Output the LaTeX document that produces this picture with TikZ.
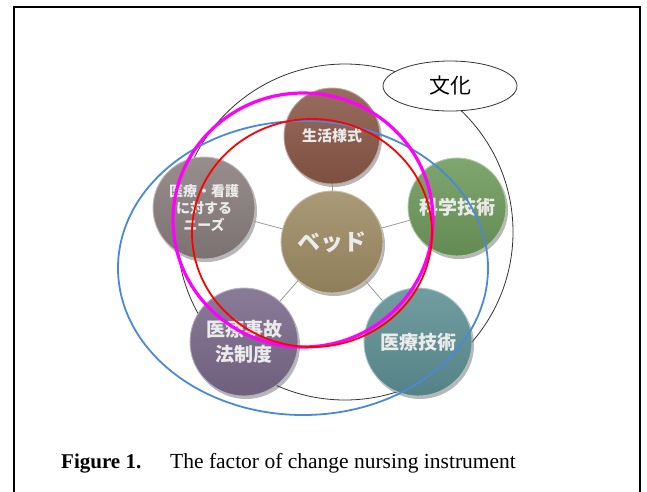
\documentclass[tikz,border=0pt]{standalone}
\usepackage{fontspec}
\setmainfont{Liberation Serif}
\newfontfamily\jp{Noto Sans CJK JP}
\usetikzlibrary{shadows,shapes.geometric}
\definecolor{clife}{HTML}{8A5848}
\definecolor{csci}{HTML}{6E9A5C}
\definecolor{cneeds}{HTML}{8A7E7E}
\definecolor{cbed}{HTML}{9E8C64}
\definecolor{cacc}{HTML}{7A6A8A}
\definecolor{ctech}{HTML}{5E9094}
\definecolor{cblue}{HTML}{4A88D8}
\definecolor{cmag}{HTML}{FF00FF}
\definecolor{cred}{HTML}{FF0000}
\tikzset{
  disc/.style={circle, draw=#1!55!white, line width=0.9pt, top color=#1!88!white, bottom color=#1!90!black,
    text=white!92!black, align=center, inner sep=0pt,
    drop shadow={shadow xshift=2pt, shadow yshift=-3pt, opacity=0.4, fill=black!70}},
  link/.style={draw=gray!80, line width=0.8pt},
}
\begin{document}
\begin{tikzpicture}[x=1pt,y=-1pt]
\useasboundingbox (0,0) rectangle (647,491);
% frame
\draw[line width=2pt] (14,500) -- (14,7) -- (640,7) -- (640,500);
% culture circle
\draw[line width=0.8pt, black!80] (345,232) circle (168);
% discs
\coordinate (cb) at (332,242);
\node[disc=clife, minimum size=96, font=\jp\bfseries\fontsize{15}{18}\selectfont] (life) at (332,136) {生活様式};
\node[disc=csci, minimum size=98, font=\jp\bfseries\fontsize{19}{22}\selectfont] (sci) at (457,207) {科学技術};
\node[disc=cneeds, minimum size=102, font=\jp\bfseries\fontsize{14}{17}\selectfont] (needs) at (204,208) {医療・看護\\に対する\\ニーズ};
\node[disc=cacc, minimum size=108, font=\jp\bfseries\fontsize{19}{25}\selectfont] (acc) at (244,342) {医療事故\\法制度};
\node[disc=ctech, minimum size=108, font=\jp\bfseries\fontsize{19}{22}\selectfont] (tech) at (418,342) {医療技術};
\node[disc=cbed, minimum size=102, font=\jp\bfseries\fontsize{23}{26}\selectfont] (bed) at (cb) {ベッド};
\draw[link] (bed) -- (life);
\draw[link] (bed) -- (sci);
\draw[link] (bed) -- (needs);
\draw[link] (bed) -- (acc);
\draw[link] (bed) -- (tech);
% culture label
\node[draw=black!80, line width=0.8pt, fill=white, ellipse, minimum width=134, minimum height=50, inner sep=0pt, font=\jp\fontsize{21}{24}\selectfont] (bunka) at (450,86) {文化};
% overlay circles
\draw[cblue, line width=1.8pt] (303,268) ellipse (185 and 147);
\draw[cmag, line width=3.2pt] (303,220) ellipse (130 and 127);
\draw[cred, line width=1.8pt] (312,233) ellipse (120 and 114);
% caption
\node[anchor=base west, inner sep=0pt, font=\fontsize{21}{24}\selectfont\bfseries] (fig) at (61,468) {Figure 1.};
\node[anchor=base west, inner sep=0pt, font=\fontsize{21.5}{24}\selectfont] (cap) at (170,468) {The factor of change nursing instrument};
\end{tikzpicture}
\end{document}
